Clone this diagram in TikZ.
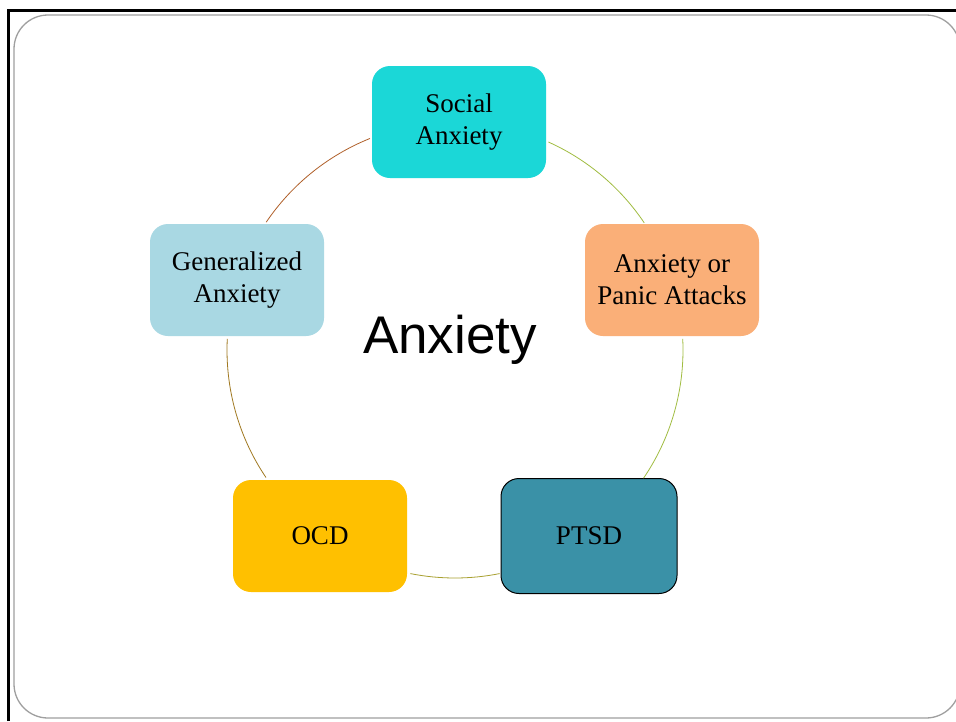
\documentclass[tikz,border=0pt]{standalone}
\usepackage{fontspec}
\setmainfont{Liberation Serif}
\newfontfamily\anxsans{Liberation Sans}
\definecolor{cSoc}{HTML}{1BD7D7}
\definecolor{cGen}{HTML}{A9D8E3}
\definecolor{cPan}{HTML}{FAAF78}
\definecolor{cOcd}{HTML}{FFC000}
\definecolor{cPts}{HTML}{3A91A7}
\definecolor{aBrown}{HTML}{B0602A}
\definecolor{aGold}{HTML}{A07820}
\definecolor{aOlive}{HTML}{A8A030}
\definecolor{aGreen}{HTML}{A0BC40}
\begin{document}
\begin{tikzpicture}[x=1pt,y=-1pt,
  topic/.style={rounded corners=18pt, minimum width=174pt, minimum height=112pt,
    align=center, inner sep=0pt, font=\fontsize{27}{32}\selectfont, text=black},
  ring/.style={line width=0.8pt}]
\useasboundingbox (0,0) rectangle (956,721);
\fill[white] (0,0) rectangle (956,721);
% frame
\draw[line width=3pt] (8.5,721) -- (8.5,10) -- (956,10);
\draw[gray!75, line width=1.3pt, rounded corners=34pt] (14,15) rectangle (960,718);
% nodes
\node[topic, fill=cSoc] (soc) at (459,122) {Social\\Anxiety};
\node[topic, fill=cGen] (gen) at (237,280) {Generalized\\Anxiety};
\node[topic, fill=cPan] (pan) at (672,280) {Anxiety or\\Panic Attacks};
\node[topic, fill=cOcd] (ocd) at (320,536) {OCD};
\node[topic, fill=cPts, draw=black, line width=1pt, minimum width=176pt, minimum height=115pt] (pts) at (589,536) {PTSD};
\node[font=\anxsans\fontsize{53}{60}\selectfont, inner sep=0pt, anchor=base] (title) at (450,353) {Anxiety};
% ring (angles negated because the y axis points down)
\coordinate (c) at (455,350);
\draw[ring, aGreen] ([shift={(-65.8:228)}]c) arc[start angle=-65.8, end angle=-33.9, radius=228];
\draw[ring, aGreen] ([shift={(-2.8:228)}]c) arc[start angle=-2.8, end angle=34.2, radius=228];
\draw[ring, aOlive] ([shift={(78.7:228)}]c) arc[start angle=78.7, end angle=101.3, radius=228];
\draw[ring, aGold] ([shift={(146:228)}]c) arc[start angle=146, end angle=182.8, radius=228];
\draw[ring, aBrown] ([shift={(-145.9:228)}]c) arc[start angle=-145.9, end angle=-111.9, radius=228];
\end{tikzpicture}
\end{document}
